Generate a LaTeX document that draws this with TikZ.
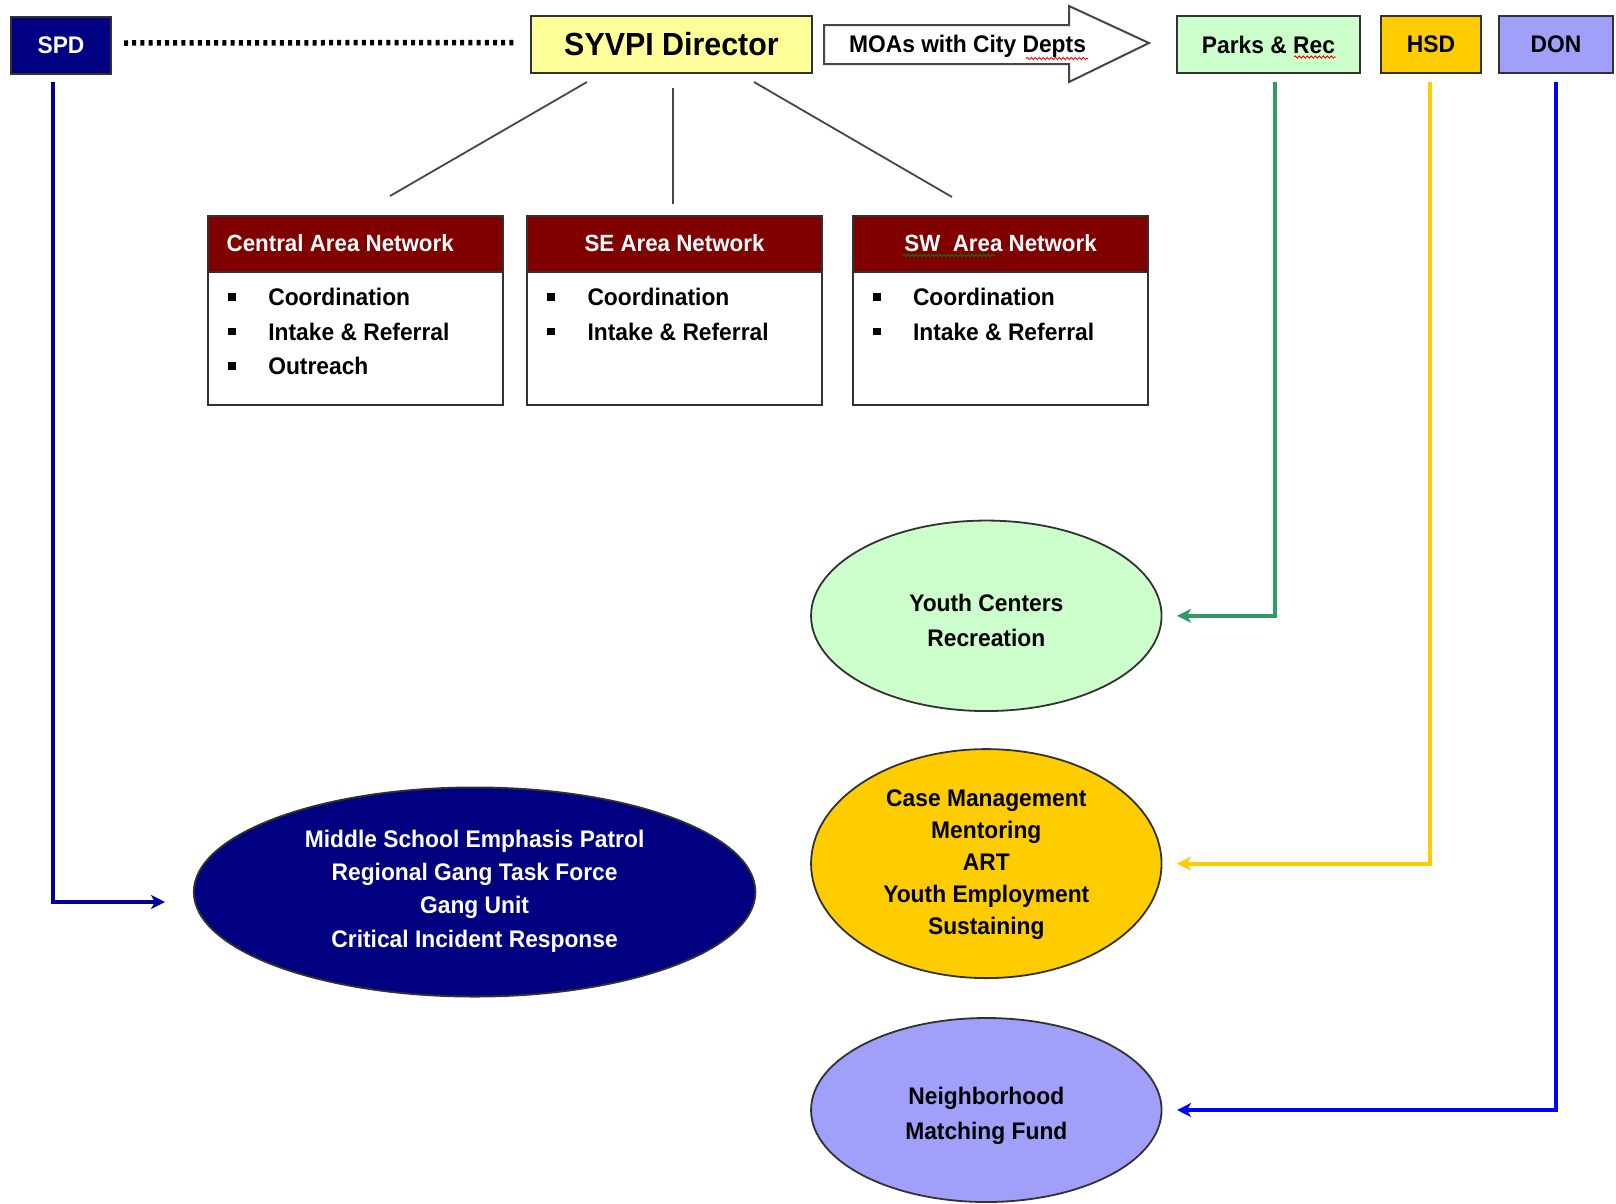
\documentclass[tikz,border=0pt]{standalone}
\usepackage{fontspec}
\setmainfont{Liberation Sans}[FakeStretch=0.95]
\usetikzlibrary{arrows.meta,shapes.geometric,decorations.pathmorphing}
\definecolor{navy}{RGB}{0,0,128}
\definecolor{syvyellow}{RGB}{255,255,153}
\definecolor{parksgreen}{RGB}{204,255,204}
\definecolor{hsdgold}{RGB}{255,204,0}
\definecolor{donlav}{RGB}{160,160,250}
\definecolor{netred}{RGB}{128,0,0}
\definecolor{boxline}{RGB}{50,50,50}
\definecolor{pkline}{RGB}{51,153,102}
\definecolor{donline}{RGB}{0,0,255}
\definecolor{spdline}{RGB}{0,0,150}
\definecolor{treeline}{RGB}{70,70,70}
\begin{document}
\begin{tikzpicture}[x=1pt,y=-1pt,
  every node/.style={inner sep=0pt, outer sep=0pt},
  bodyfont/.style={font=\fontsize{24}{24}\selectfont\bfseries},
  topbox/.style={draw=boxline, line width=2pt, minimum height=57pt, bodyfont},
  nethead/.style={draw=boxline, line width=2pt, fill=netred, minimum width=295pt, minimum height=56pt},
  netbody/.style={draw=boxline, line width=2pt, fill=white, minimum width=295pt, minimum height=189pt},
  headtxt/.style={text=white, font=\fontsize{23.5}{23.5}\selectfont\bfseries},
  bul/.style={fill=black, minimum size=7.3pt},
  btxt/.style={bodyfont, anchor=base west},
  ell/.style={ellipse, draw=boxline, line width=1.8pt},
  etext/.style={align=center, font=\fontsize{24}{33}\selectfont\bfseries},
  conn/.style={line width=4pt, -{Stealth[length=14pt,width=14pt,inset=4pt]}},
  tree/.style={draw=treeline, line width=1.8pt},
  squig/.style={line width=0.9pt, decorate, decoration={snake, segment length=4pt, amplitude=1.1pt}}
]
\useasboundingbox (0,0) rectangle (1616,1203);
\fill[white] (0,0) rectangle (1616,1203);

% top row
\node[topbox, fill=navy, text=white, minimum width=100pt] (spd) at (61,45) {SPD};
\node[topbox, fill=syvyellow, minimum width=281pt, font=\fontsize{32}{32}\selectfont\bfseries] (syv) at (671.5,44.5) {SYVPI Director};
\node[topbox, fill=parksgreen, minimum width=183pt] (parks) at (1268.5,44.5) {Parks \& Rec};
\node[topbox, fill=hsdgold, minimum width=100pt] (hsd) at (1431,44.5) {HSD};
\node[topbox, fill=donlav, minimum width=114pt] (don) at (1556,44.5) {DON};

% MOA block arrow
\draw[draw=treeline, line width=2pt, fill=white]
  (824,25) -- (1069,25) -- (1069,6) -- (1149,43) -- (1069,82) -- (1069,64) -- (824,64) -- cycle;
\node[bodyfont, anchor=base] (moa) at (967.5,52.8) {MOAs with City Depts};
\draw[squig, red] (1026,58.5) -- (1088,58.5);
\draw[squig, red] (1294,57) -- (1336,57);

% dotted link SPD -- SYVPI
\draw[line width=5.5pt, dash pattern=on 4pt off 4.2pt]
  ([xshift=13pt,yshift=2pt]spd.east) -- ([xshift=-16pt,yshift=2pt]syv.west);

% tree lines
\coordinate (l1a) at (587,82);  \coordinate (l1b) at (390,196);
\coordinate (l2a) at (673,88);  \coordinate (l2b) at (673,204);
\coordinate (l3a) at (754,82);  \coordinate (l3b) at (952,197);
\draw[tree] (l1a) -- (l1b);
\draw[tree] (l2a) -- (l2b);
\draw[tree] (l3a) -- (l3b);

% network boxes
\node[netbody] (cbody) at (355.6,310.5) {};
\node[nethead] (chead) at (355.6,244) {};
\node[headtxt, anchor=base west] (ctitle) at (226.7,251.5) {Central Area Network};
\node[bul] (cb1) at (232,297) {};
\node[bul] (cb2) at (232,331.5) {};
\node[bul] (cb3) at (232,366) {};
\node[btxt] (ct1) at (268.3,305.6) {Coordination};
\node[btxt] (ct2) at (268.3,340.1) {Intake \& Referral};
\node[btxt] (ct3) at (268.3,374.6) {Outreach};

\node[netbody] (sebody) at (674.5,310.5) {};
\node[nethead] (sehead) at (674.5,244) {};
\node[headtxt, anchor=base] (setitle) at (674.5,251.5) {SE Area Network};
\node[bul] (sb1) at (551,297) {};
\node[bul] (sb2) at (551,331.5) {};
\node[btxt] (st1) at (587.5,305.6) {Coordination};
\node[btxt] (st2) at (587.5,340.1) {Intake \& Referral};

\node[netbody] (swbody) at (1000.6,310.5) {};
\node[nethead] (swhead) at (1000.6,244) {};
\node[headtxt, anchor=base] (swtitle) at (1000.6,251.5) {SW~~Area Network};
\draw[squig, green!50!black] (903,255.5) -- (995,255.5);
\node[bul] (wb1) at (877,297) {};
\node[bul] (wb2) at (877,331.5) {};
\node[btxt] (wt1) at (913,305.6) {Coordination};
\node[btxt] (wt2) at (913,340.1) {Intake \& Referral};

% ellipses
\node[ell, fill=parksgreen, minimum width=350.5pt, minimum height=190.5pt] (yc) at (986.3,615.8) {};
\node[etext, font=\fontsize{24}{35}\selectfont\bfseries] (yct) at (986.3,620.4) {Youth Centers\\Recreation};
\node[ell, fill=hsdgold, minimum width=350.5pt, minimum height=229pt] (cm) at (986.3,863.6) {};
\node[etext, font=\fontsize{24}{32}\selectfont\bfseries] (cmt) at (986.3,864.7) {Case Management\\Mentoring\\ART\\Youth Employment\\Sustaining};
\node[ell, fill=donlav, minimum width=350.5pt, minimum height=184pt] (nm) at (986.3,1110) {};
\node[etext, font=\fontsize{24}{35}\selectfont\bfseries] (nmt) at (986.3,1116) {Neighborhood\\Matching Fund};
\node[ell, fill=navy, minimum width=561.6pt, minimum height=209.2pt] (ms) at (474.6,892) {};
\node[etext, text=white, font=\fontsize{24}{33.3}\selectfont\bfseries] (mst) at (474.6,891) {Middle School Emphasis Patrol\\Regional Gang Task Force\\Gang Unit\\Critical Incident Response};

% connectors
\coordinate (spdtop) at (53,82);
\coordinate (spdend) at (165,902);
\coordinate (pktop) at (1275,82);
\coordinate (hsdtop) at (1430,82);
\coordinate (dontop) at (1556,82);
\draw[conn, spdline] (spdtop) |- (spdend);
\draw[conn, pkline] (pktop) |- ([xshift=15.5pt]yc.east);
\draw[conn, hsdgold] (hsdtop) |- ([xshift=15.5pt]cm.east);
\draw[conn, donline] (dontop) |- ([xshift=15.5pt]nm.east);
\end{tikzpicture}
\end{document}
